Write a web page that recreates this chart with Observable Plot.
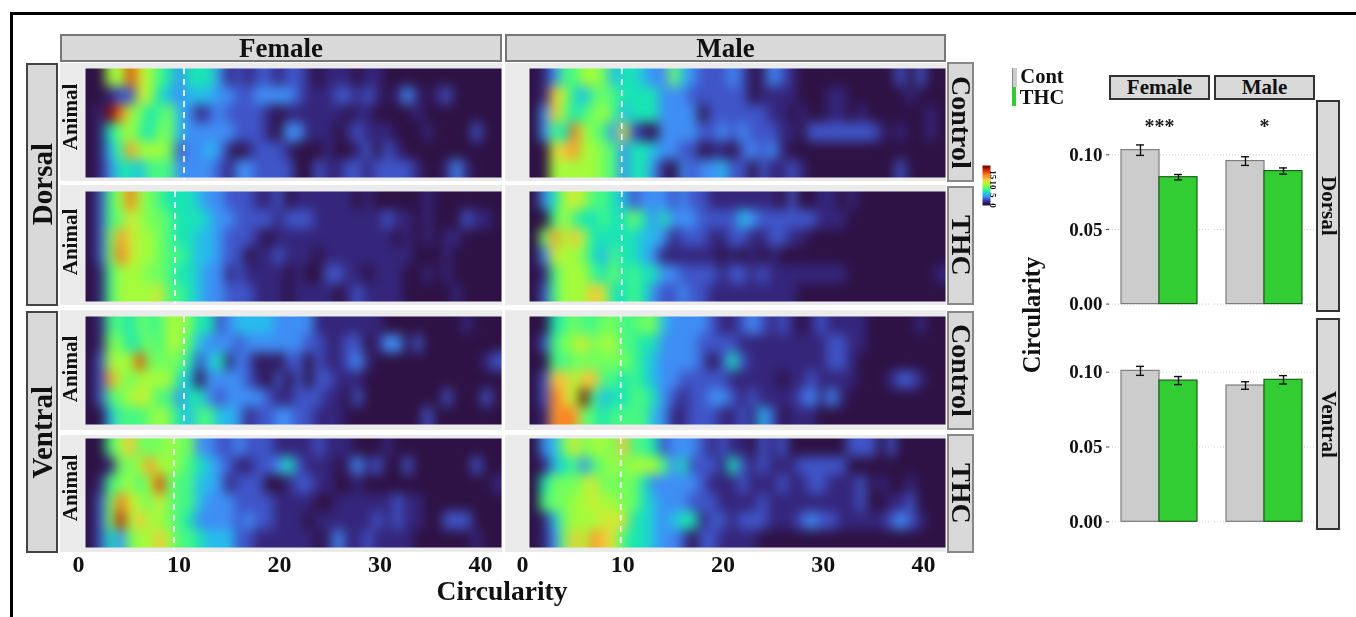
<!DOCTYPE html>
<html><head><meta charset="utf-8">
<script src="https://cdn.jsdelivr.net/npm/d3@7"></script>
<script src="https://cdn.jsdelivr.net/npm/@observablehq/plot@0.6"></script>
<style>
html,body{margin:0;padding:0;background:#fff}
#c{position:relative;width:1356px;height:617px;overflow:hidden;font-family:"Liberation Serif",serif;font-weight:bold;color:#111;filter:blur(0.35px)}
#c>*{position:absolute}
#c svg{overflow:visible;background:transparent}
.strip{box-sizing:border-box;background:#d9d9d9;border:2px solid #666;display:flex;align-items:center;justify-content:center;white-space:nowrap}
.bg{background:#ebebeb}
</style></head><body><div id="c"></div>
<script>
// Heat-map cell values, one hexadecimal digit (0-15) per circularity bin, one string per animal
const femaleDorsalControl = [
"0088d98653 5553121221 2210111011 000000000000",
"0012298543 4443322333 3211122121 013101200000",
"01fc875674 3123222210 1111110110 000100000000",
"0157865774 3333322210 3311101211 100010000200",
"0146b88872 3343101222 1000100120 210000000000",
"0135546663 3332133222 2002112212 222100131000"];
const femaleDorsalTHC = [
"0268c87655 5433222112 0111111010 000010000000",
"0267987765 5543322221 2221111111 211010002110",
"027b988765 5443222101 1111111111 101010110000",
"027c988766 5443220112 1110111111 111000100000",
"0168887765 5433121111 0100221101 110010100000",
"0168888966 5433222111 0111101211 110000010000"];
const maleDorsalControl = [
"0136688745 5433743222 3201321000 000000020200",
"01a8546765 5553332222 2201111000 110000001000",
"03a7567864 5553333022 2222110100 110100000010",
"0365c87639 2103333223 2322211022 222221010010",
"009ab88763 5543322011 0232310000 000000000000",
"0088888763 5531032334 2202112100 000000020000"];
const maleDorsalTHC = [
"0358986654 2333232211 1111102001 101000000000",
"0068655655 7535333222 2432222221 110000000000",
"07b8a85555 5443122211 2211221100 000000000000",
"0398875465 5431111110 1010100000 000000000000",
"0168886575 6553322221 2212111111 110000000001",
"026888a955 6532232211 1111111000 000000000000"];
const femaleVentralControl = [
"0166576688 7552344443 3331111111 000000001000",
"0177567688 6433323333 3322112201 330200000000",
"02888d7777 5245132010 2202112310 000000000012",
"02b8788885 4033332102 0202211100 000000000000",
"0267898663 5532333321 1222110200 000000200020",
"0046667875 4664431223 3221110000 000020000000"];
const femaleVentralTHC = [
"0068a77787 7332232221 1112111000 100000000000",
"001778b887 6543211223 5211101312 002000000200",
"0167868d76 6443122200 1221100100 000000000001",
"027c987976 6433322221 1110011111 121100000000",
"027e8a8876 5333323221 1101111112 121100222000",
"0253788a86 6544422111 1110131121 111000000100"];
const maleVentralControl = [
"0056766776 6774333321 1232121012 111100000100",
"0267897886 6553333222 2111111111 221100000000",
"0066777777 6543333202 5211111111 221000000000",
"02aa8aa665 6543322222 1111101121 111000122100",
"02ca8f6455 6653212233 2121111231 310000000000",
"01bcb76566 6643112221 1214201110 000000000000"];
const maleVentralTHC = [
"034797887a 6652333212 1102120000 002220200000",
"0145636787 8886352221 5212111222 220000000000",
"0577789777 7533333211 1211121122 111201001000",
"0677889887 7543332221 1112111111 111200112000",
"0147888999 5543455122 1222111232 211111232100",
"0137a8ba96 5543320221 1110000000 000000000000"];

// Colour stops for the values 0..15
const heatDomain = [0,1,2,3,4,5,6,7,8,9,10,11,12,13,14,15];
const heatColors = ["#2e1245","#35267c","#3f55c8","#3f8ef5","#28bbec","#1ae4b6","#46f884","#72fe5e","#a4fc3c","#d2e935","#f5c63a","#fb9b2f","#f87a1f","#e4460a","#c42503","#7a0403"];

// Dashed reference line per panel (circularity)
const refFemale = [10.5, 9.6, 10.5, 9.5];
const refMale = [9.9, 9.9, 9.8, 9.8];
const xTicks = [0, 10, 20, 30, 40];
const colorbarValues = [15,14,13,12,11,10,9,8,7,6,5,4,3,2,1,0];
const colorbarTicks = [0, 5, 10, 15];
const colorbarTop = 19.5;

// Bar chart
const barSex = ["Female", "Male"];
const barGroup = ["Cont", "THC"];
const dorsalMean = [0.1031, 0.0850, 0.0958, 0.0891];
const dorsalErr = [0.0035, 0.0018, 0.0029, 0.0021];
const ventralMean = [0.1009, 0.0944, 0.0911, 0.0949];
const ventralErr = [0.0030, 0.0027, 0.0025, 0.0028];
const barTicks = [0, 0.05, 0.10];
const stars = ["***", "*"];
const starLevel = 0.1188;

const SERIF = '"Liberation Serif",serif';
const c = document.getElementById("c");
function place(el, l, t) { el.style.left = l + "px"; el.style.top = t + "px"; c.appendChild(el); return el; }
function box(cls, l, t, r, b) {
  const d = document.createElement("div"); d.className = cls;
  d.style.width = (r - l) + "px"; d.style.height = (b - t) + "px";
  return place(d, l, t);
}
function strip(text, l, t, r, b, size, mode, border) {
  const d = box("strip", l, t, r, b);
  if (border) d.style.borderColor = border;
  const s = document.createElement("span"); s.textContent = text;
  s.style.fontSize = size + "px";
  if (mode) { s.style.writingMode = "vertical-rl"; if (mode === "up") s.style.transform = "rotate(180deg)"; }
  d.appendChild(s); return d;
}
function label(text, cx, cy, size, rot) {
  const d = document.createElement("div"); d.textContent = text;
  d.style.fontSize = size + "px"; d.style.whiteSpace = "nowrap"; d.style.lineHeight = "0.85";
  d.style.transform = `translate(-50%,-50%)` + (rot ? ` rotate(${rot}deg)` : "");
  return place(d, cx, cy);
}

// frame of the figure
box("", 10, 12, 1356, 14.5).style.background = "#000";
box("", 10, 12, 12.5, 617).style.background = "#000";

// panel geometry
const rowsGeom = [
  {bgT:63, bgB:181, tT:68, tB:177, an:117},
  {bgT:185, bgB:305, tT:191, tB:301, an:242},
  {bgT:310, bgB:430, tT:316, tB:424, an:369},
  {bgT:435, bgB:552, tT:438, tB:547, an:488}];
const colsGeom = [
  {l:60, r:502, ml:18, mr:1, xMax:42.09, ref:refFemale, data:[femaleDorsalControl,femaleDorsalTHC,femaleVentralControl,femaleVentralTHC]},
  {l:505, r:946, ml:17, mr:1, xMax:42.2, ref:refMale, data:[maleDorsalControl,maleDorsalTHC,maleVentralControl,maleVentralTHC]}];
const xMin = 0.7;

colsGeom.forEach((col, ci) => rowsGeom.forEach((row, i) => {
  box("bg", col.l, row.bgT, col.r, row.bgB);
  const binWidth = (col.xMax - xMin) / 42;
  const cells = col.data[i].flatMap((s, r) =>
    Array.from(s.replace(/ /g, ""), (ch, k) => ({x: xMin + (k + 0.5) * binWidth, y: r + 0.5, v: parseInt(ch, 16)})));
  const last = i === 3, extra = last ? 45 : 0;
  const plot = Plot.plot({
    width: col.r - col.l, height: row.bgB - row.bgT + extra,
    marginLeft: col.ml, marginRight: col.mr,
    marginTop: row.tT - row.bgT, marginBottom: row.bgB - row.tB + extra,
    x: {domain: [0, col.xMax], axis: null},
    y: {domain: [0, 6], reverse: true, axis: null},
    color: {type: "linear", domain: heatDomain, range: heatColors},
    style: {background: "transparent", fontFamily: SERIF},
    marks: [
      Plot.raster(cells, {x: "x", y: "y", fill: "v", x1: xMin, x2: col.xMax, y1: 0, y2: 6, interpolate: "nearest", blur: 5}),
      Plot.ruleX([col.ref[i]], {y1: 0, y2: 6.15, stroke: "white", strokeWidth: 1.6, strokeDasharray: "6,5"}),
      ...(last ? [Plot.axisX({ticks: xTicks, tickSize: 0, tickPadding: 7, label: null, fontSize: 24, fontWeight: "bold", fill: "#111", tickFormat: d => d})] : [])
    ]
  });
  place(plot, col.l, row.bgT);
  if (ci === 0) label("Animal", 71, row.an, 21, -90);
}));

// strips of the heat maps
strip("Female", 60, 34, 502, 62, 27, null, "#777");
strip("Male", 505, 34, 946, 62, 27, null, "#777");
strip("Dorsal", 26, 63, 58, 306, 29, "up", "#444");
strip("Ventral", 26, 311, 58, 553, 29, "up", "#444");
[["Control",62,182],["THC",186,305],["Control",311,430],["THC",434,553]].forEach(([t,a,b]) => strip(t, 947, a, 974, b, 28, "down", "#888"));
label("Circularity", 502, 591, 27.5);

// colour bar
place(Plot.plot({
  width: 30, height: 40, marginLeft: 0, marginRight: 22, marginTop: 0, marginBottom: 0,
  x: {domain: [0, 1], axis: null},
  y: {domain: [0, colorbarTop], axis: null},
  color: {type: "linear", domain: heatDomain, range: heatColors},
  style: {background: "transparent", fontFamily: SERIF},
  marks: [
    Plot.raster(colorbarValues, {width: 1, height: 16, x1: 0, x2: 1, y1: colorbarTop, y2: 0, fill: d => d}),
    Plot.axisY({anchor: "right", ticks: colorbarTicks, tickSize: 0, tickPadding: 6, tickRotate: 90, label: null, fontSize: 9, fontWeight: "bold", fill: "#111", textAnchor: "middle"})
  ]
}), 982, 165);

// bar charts
function bars(mean, err, top, bottom, zero, ten, showStars) {
  const rows = [];
  barSex.forEach((s, i) => barGroup.forEach((g, j) => {
    const k = i * 2 + j;
    rows.push({sex: s, group: g, value: mean[k], lo: mean[k] - err[k], hi: mean[k] + err[k]});
  }));
  const unit = (zero - ten) / 0.1;
  const starData = barSex.map((s, i) => ({sex: s, label: stars[i]}));
  const plot = Plot.plot({
    width: 1314 - 1040, height: bottom - top,
    marginLeft: 69, marginRight: 0, marginTop: 0, marginBottom: 0,
    x: {domain: barGroup, paddingInner: 0, paddingOuter: 0.3158, align: 0.5, axis: null, round: false},
    fx: {domain: barSex, paddingInner: 0.0476, paddingOuter: 0, axis: null, round: false},
    y: {domain: [-(bottom - zero) / unit, (zero - top) / unit], axis: null},
    color: {domain: barGroup, range: ["#cccccc", "#32cd32"]},
    style: {background: "transparent", fontFamily: SERIF},
    marks: [
      Plot.ruleY(barTicks, {stroke: "#d0d0d0", strokeDasharray: "1,2", strokeWidth: 1}),
      Plot.axisY({ticks: barTicks, tickFormat: ".2f", tickSize: 3, tickPadding: 4, label: null, fontSize: 19, fontWeight: "bold", fill: "#111", stroke: "#444", anchor: "left"}),
      Plot.barY(rows, {fx: "sex", x: "group", y: "value", fill: "group", stroke: d => d.group === "Cont" ? "#7d7d7d" : "#1c5f1c", strokeWidth: 1.2}),
      Plot.ruleX(rows, {fx: "sex", x: "group", y1: "lo", y2: "hi", stroke: "#111", strokeWidth: 1.4}),
      Plot.tickY(rows, {fx: "sex", x: "group", y: "lo", stroke: "#111", strokeWidth: 1.4, insetLeft: 15, insetRight: 15}),
      Plot.tickY(rows, {fx: "sex", x: "group", y: "hi", stroke: "#111", strokeWidth: 1.4, insetLeft: 15, insetRight: 15}),
      ...(showStars ? [Plot.text(starData, {fx: "sex", y: () => starLevel, text: "label", fontSize: 20, fontWeight: "bold", fill: "#222"})] : [])
    ]
  });
  place(plot, 1040, top);
}
bars(dorsalMean, dorsalErr, 100, 312, 303.6, 154.3, true);
bars(ventralMean, ventralErr, 318, 530, 521.3, 371.7, false);

strip("Female", 1109, 75, 1210, 100, 21, null, "#333");
strip("Male", 1214, 75, 1315, 100, 21, null, "#333");
strip("Dorsal", 1316, 100, 1340, 312, 21, "down", "#333");
strip("Ventral", 1316, 318, 1340, 530, 21, "down", "#333");
label("Circularity", 1032, 315, 24.5, -90);

// legend
box("", 1012, 68, 1016, 87).style.cssText += ";background:#cccccc;border-left:0.5px solid #888";
box("", 1012, 87, 1016, 106).style.background = "#32cd32";
label("Cont", 1042, 77, 20.5);
label("THC", 1042, 98, 20.5);
</script></body></html>
